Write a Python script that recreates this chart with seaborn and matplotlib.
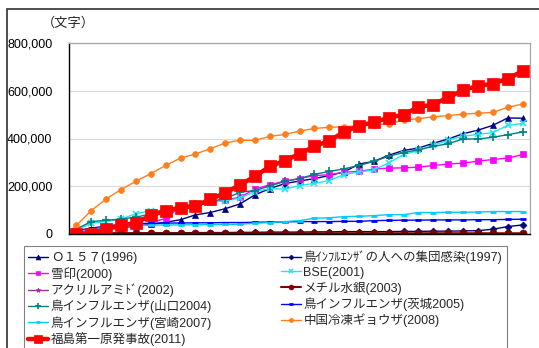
import numpy as np
import pandas as pd
import matplotlib
matplotlib.use("Agg")
import matplotlib.pyplot as plt
from matplotlib.patches import Rectangle
from matplotlib.ticker import FuncFormatter
import seaborn as sns

# Cumulative article length (characters) per time step for each incident
labels = [
    "Ｏ１５７(1996)",
    "鳥ｲﾝﾌﾙｴﾝｻﾞの人への集団感染(1997)",
    "雪印(2000)",
    "BSE(2001)",
    "アクリルアミﾄﾞ(2002)",
    "メチル水銀(2003)",
    "鳥インフルエンザ(山口2004)",
    "鳥インフルエンザ(茨城2005)",
    "鳥インフルエンザ(宮崎2007)",
    "中国冷凍ギョウザ(2008)",
    "福島第一原発事故(2011)",
]

o157 = [12000, 22000, 28000, 32000, 36000, 40000, 49000, 60000, 80000, 90000, 106000,
        126000, 164000, 190000, 211000, 222000, 232000, 245000, 260000, 293000, 304000,
        330000, 350000, 360000, 380000, 398000, 420000, 435000, 455000, 486000, 485000]
bird_human = [2000, 3000, 3000, 4000, 4000, 5000, 5000, 5000, 6000, 6000, 6000,
              7000, 7000, 8000, 8000, 8000, 9000, 9000, 10000, 10000, 10000,
              10000, 11000, 11000, 12000, 12000, 13000, 14000, 20000, 31000, 38000]
yukijirushi = [8000, 12000, 18000, 25000, 31000, 48000, 65000, 115000, 124000, 132000, 142000,
               154000, 188000, 206000, 222000, 232000, 245000, 248000, 259000, 262000, 272000,
               276000, 277000, 280000, 287000, 293000, 297000, 305000, 312000, 318000, 333000]
bse = [17000, 45000, 52000, 62000, 85000, 97000, 100000, 112000, 125000, 133000, 139000,
       150000, 178000, 190000, 188000, 203000, 212000, 224000, 249000, 260000, 268000,
       298000, 333000, 350000, 372000, 392000, 410000, 417000, 425000, 455000, 463000]
acrylamide = [1000, 1000, 1000, 1500, 1500, 1500, 1500, 1500, 1500, 1500, 1500,
              1500, 1500, 1500, 1500, 1500, 1500, 1500, 1500, 1500, 1500,
              1500, 1500, 1500, 1500, 1500, 1500, 1500, 1500, 1500, 1500]
methylmercury = [2000, 2500, 3000, 3000, 3000, 3000, 3000, 3000, 3000, 3000, 3000,
                 3000, 3000, 3000, 3000, 3000, 3000, 3000, 3000, 3000, 3000,
                 3000, 3000, 3000, 3000, 3000, 3000, 3000, 3000, 3000, 3000]
bird_yamaguchi = [21000, 52000, 57000, 63000, 70000, 85000, 94000, 112000, 125000, 136000, 148000,
                  175000, 182000, 201000, 220000, 232000, 250000, 262000, 273000, 287000, 304000,
                  326000, 341000, 353000, 367000, 378000, 398000, 398000, 405000, 416000, 427000]
bird_ibaraki = [15000, 24000, 34000, 40000, 43000, 45000, 46000, 46000, 47000, 47000, 48000,
                48000, 49000, 50000, 51000, 52000, 52000, 52000, 53000, 53000, 56000,
                57000, 58000, 58000, 59000, 59000, 59000, 60000, 60000, 61000, 62000]
bird_miyazaki = [10000, 20000, 28000, 33000, 36000, 37000, 38000, 38000, 39000, 39000, 40000,
                 41000, 45000, 48000, 52000, 56000, 66000, 68000, 73000, 74000, 77000,
                 81000, 81000, 90000, 90000, 91000, 91000, 92000, 94000, 94000, 94000]
gyoza = [36500, 98000, 147000, 186000, 221000, 253000, 287000, 318000, 335000, 357000, 381000,
         393000, 392000, 409000, 417000, 431000, 442000, 447000, 449000, 454000, 458000,
         461000, 477000, 483000, 491000, 496000, 502000, 506000, 509000, 531000, 544000]
fukushima = [0, 0, 22000, 36000, 46000, 78000, 98000, 110000, 117000, 145000, 172000,
             206000, 241000, 283000, 307000, 336000, 367000, 391000, 427000, 454000, 468000,
             487000, 500000, 532000, 542000, 573000, 602000, 621000, 629000, 651000, 682000]

series = [o157, bird_human, yukijirushi, bse, acrylamide, methylmercury,
          bird_yamaguchi, bird_ibaraki, bird_miyazaki, gyoza, fukushima]

styles = [
    dict(color="#000080", marker="^", ms=5, lw=1.0),
    dict(color="#000080", marker="D", ms=3.5, lw=1.0),
    dict(color="#FF00FF", marker="s", ms=5, lw=1.0),
    dict(color="#22E5F0", marker="x", ms=5, lw=1.0, mew=1.2),
    dict(color="#993399", marker="*", ms=5, lw=1.0),
    dict(color="#800000", marker="o", ms=5, lw=1.5),
    dict(color="#008080", marker="+", ms=6, lw=1.0, mew=1.2),
    dict(color="#0000FF", marker="_", ms=4, lw=1.0, mew=2),
    dict(color="#00CCFF", marker="_", ms=4, lw=1.0, mew=2),
    dict(color="#FF7F1E", marker="o", ms=4.2, lw=1.0),
    dict(color="#FF0000", marker="s", ms=8, lw=3.2),
]

sns.set_theme(style="white")
plt.rcParams["font.family"] = ["Liberation Sans", "Noto Sans CJK JP"]

fig = plt.figure(figsize=(5.39, 3.48), dpi=100)
W, H = 539, 348
ax = fig.add_axes([69 / W, 1 - 234 / H, (530 - 69) / W, (234 - 43) / H])

n = len(fukushima)
x = np.arange(n)
handles = []
for lab, vals, st in zip(labels, series, styles):
    df = pd.DataFrame({"step": x, "chars": vals})
    sns.lineplot(data=df, x="step", y="chars", ax=ax, color=st["color"],
                 linewidth=st["lw"], marker=st["marker"], markersize=st["ms"],
                 markeredgewidth=st.get("mew", 0.5), markeredgecolor=st["color"],
                 label=lab, legend=False)
    handles.append(ax.lines[-1])

ax.set_xlim(-0.5, n - 0.5)
ax.set_ylim(0, 800000)
ax.set_yticks([0, 200000, 400000, 600000, 800000])
ax.yaxis.set_major_formatter(FuncFormatter(lambda v, p: f"{int(v):,}"))
ax.set_xticks([])
ax.set_xlabel("")
ax.set_ylabel("")
ax.tick_params(axis="y", length=0, pad=12, labelsize=9, labelcolor="black")
ax.grid(axis="y", color="#d9d9d9", linewidth=0.8)
ax.set_axisbelow(True)
for side in ["top", "right"]:
    ax.spines[side].set_color("#a6a6a6")
    ax.spines[side].set_linewidth(0.9)
for side in ["left", "bottom"]:
    ax.spines[side].set_color("black")
    ax.spines[side].set_linewidth(1.0)

fig.text(42 / W, 1 - 23 / H, "（文字）", fontsize=9.5, va="center", ha="left",
         family=["Noto Sans CJK JP"])

# Outer chart frame
fig.patches.append(Rectangle((7 / W, -0.1), 1.2, 1 - 9 / H + 0.1,
                             transform=fig.transFigure, fill=False,
                             edgecolor="#404040", linewidth=1.3))

# Legend in two columns, filled row by row
order = [0, 2, 4, 6, 8, 10, 1, 3, 5, 7, 9]
leg = fig.legend([handles[i] for i in order], [labels[i] for i in order],
                 loc="upper left", bbox_to_anchor=(24 / W, 1 - 246 / H),
                 ncol=2, fontsize=9, frameon=True, fancybox=False,
                 edgecolor="#808080", framealpha=1, borderpad=0.35,
                 labelspacing=0.22, handlelength=1.6, handletextpad=0.2,
                 columnspacing=5.5, borderaxespad=0, markerscale=0.7)
leg.get_frame().set_linewidth(0.8)

fig.savefig("out.png", dpi=100)
